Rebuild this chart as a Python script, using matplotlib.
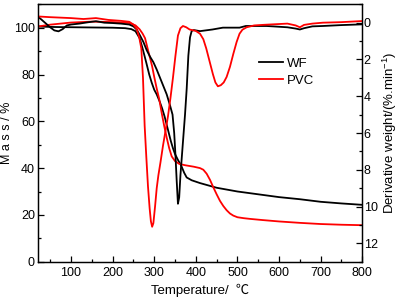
import matplotlib
matplotlib.use("Agg")
from matplotlib import pyplot as plt
from matplotlib.ticker import MultipleLocator

plt.rcParams['font.family'] = ['Liberation Sans', 'Noto Sans CJK SC', 'DejaVu Sans']
plt.rcParams['mathtext.default'] = 'regular'

# WF mass (TG)
wf_tg_t = [20, 40, 60, 100, 150, 200, 230, 245, 255, 265, 273, 281, 288, 294, 300,
           306, 313, 319, 325, 330, 335, 340, 345, 350, 357, 365, 372, 378, 390,
           410, 450, 500, 550, 600, 650, 700, 750, 800]
wf_tg = [100.5, 100.4, 100.3, 100.2, 100.1, 100.0, 99.8, 99.4, 98.5, 95.5, 90.5, 85,
         80, 76.5, 73.5, 71.5, 68.5, 65.5, 62, 58.5, 55, 51.5, 48.5, 46, 43.5, 41,
         38, 36, 34.8, 33.6, 31.6, 30, 28.8, 27.6, 26.7, 25.6, 24.9, 24.3]

# PVC mass (TG)
pvc_tg_t = [20, 50, 100, 150, 200, 240, 255, 265, 272, 278, 285, 290, 295, 300, 306,
            312, 318, 324, 330, 336, 342, 350, 360, 375, 395, 410, 418, 426, 434,
            442, 450, 458, 466, 474, 482, 490, 500, 515, 530, 560, 600, 650, 700,
            750, 800]
pvc_tg = [100.5, 101.3, 102.2, 102.6, 102.4, 102, 101, 99.3, 97.5, 95.5, 90.5, 87,
          83.5, 79, 74, 69.5, 63.5, 58, 53, 48.5, 45, 43, 41.8, 41.2, 40.6, 40, 39.3,
          37.6, 35, 31.8, 28.8, 26, 23.8, 22, 20.6, 19.7, 19, 18.6, 18.3, 17.8, 17.2,
          16.6, 16.1, 15.8, 15.6]

# WF derivative weight (DTG)
wf_dtg_t = [20, 30, 40, 50, 60, 70, 80, 90, 100, 120, 140, 160, 180, 200, 220, 240,
            250, 258, 266, 274, 282, 290, 298, 306, 314, 322, 330, 338, 344, 348,
            351, 354, 357, 360, 363, 366, 370, 374, 378, 382, 386, 390, 395, 410,
            440, 465, 505, 520, 570, 585, 620, 640, 650, 660, 680, 705, 750, 800]
wf_dtg = [-0.34, -0.15, 0.05, 0.25, 0.42, 0.47, 0.35, 0.15, 0.1, 0.05, -0.02, -0.08,
          0.0, 0.02, 0.05, 0.1, 0.2, 0.37, 0.7, 1.05, 1.5, 1.85, 2.15, 2.55, 3.0,
          3.45, 3.9, 4.5, 5.0, 6.0, 7.2, 8.6, 9.85, 9.5, 8.3, 7.4, 6.2, 5.0, 3.6,
          1.8, 0.8, 0.45, 0.4, 0.46, 0.37, 0.27, 0.27, 0.18, 0.18, 0.2, 0.25, 0.32,
          0.37, 0.3, 0.2, 0.18, 0.13, 0.09]

# PVC derivative weight (DTG)
pvc_dtg_t = [20, 50, 100, 130, 160, 190, 220, 240, 250, 258, 264, 269, 273, 277, 281,
             285, 289, 292, 295, 298, 302, 306, 310, 315, 321, 327, 333, 339, 345,
             351, 357, 363, 369, 377, 385, 400, 410, 418, 425, 433, 441, 447, 453,
             460, 467, 474, 482, 490, 498, 505, 512, 522, 540, 560, 585, 620, 640,
             650, 660, 680, 705, 750, 800]
pvc_dtg = [-0.34, -0.3, -0.25, -0.2, -0.25, -0.15, -0.1, -0.05, 0.1, 0.35, 0.8, 1.4,
           3.0, 5.6, 7.3, 8.9, 10.1, 10.8, 11.1, 10.9, 10.0, 9.0, 8.3, 7.6, 6.7, 5.9,
           5.1, 4.1, 3.0, 1.8, 0.7, 0.3, 0.18, 0.25, 0.37, 0.45, 0.6, 0.9, 1.4, 2.1,
           2.8, 3.25, 3.46, 3.4, 3.25, 2.95, 2.4, 1.7, 1.05, 0.6, 0.38, 0.25, 0.15,
           0.12, 0.09, 0.05, 0.15, 0.25, 0.12, 0.05, 0.0, -0.03, -0.09]

fig = plt.figure(figsize=(4.01, 3.03), dpi=100)
ax = fig.add_axes([0.094, 0.1363, 0.8095, 0.8495])
ax2 = ax.twinx()

lw = 1.3
ax.plot(wf_tg_t, wf_tg, color='black', lw=lw)
ax.plot(pvc_tg_t, pvc_tg, color='red', lw=lw)
ax2.plot(wf_dtg_t, wf_dtg, color='black', lw=lw, label='WF')
ax2.plot(pvc_dtg_t, pvc_dtg, color='red', lw=lw, label='PVC')

ax.set_xlim(20, 800)
ax.set_ylim(0, 110)
ax2.set_ylim(13, -1)

ax.xaxis.set_minor_locator(MultipleLocator(50))
ax.yaxis.set_minor_locator(MultipleLocator(10))
ax2.yaxis.set_minor_locator(MultipleLocator(1))

ax.set_xticks([100, 200, 300, 400, 500, 600, 700, 800])
ax.set_yticks([0, 20, 40, 60, 80, 100])
ax2.set_yticks([0, 2, 4, 6, 8, 10, 12])

for a in (ax, ax2):
    a.tick_params(which='both', direction='in', labelsize=9, top=False)
    a.tick_params(which='major', length=4.5, width=0.9)
    a.tick_params(which='minor', length=2.5, width=0.9)
    for s in a.spines.values():
        s.set_linewidth(0.9)
ax.tick_params(axis='y', right=False, pad=2)
ax2.tick_params(axis='y', left=False, pad=1)

ax.set_xlabel('Temperature/  ℃', fontsize=9.5)
ax.xaxis.set_label_coords(0.5, -0.085)
ax.set_ylabel('M a s s / %', fontsize=9)
ax.yaxis.set_label_coords(-0.076, 0.5)
ax2.set_ylabel('Derivative weight/(%.min$^{-1}$)', fontsize=9.5)
ax2.yaxis.set_label_coords(1.058, 0.5)

ax2.legend(loc='upper left', bbox_to_anchor=(0.645, 0.84), frameon=False,
           fontsize=9.5, handlelength=1.8, handletextpad=0.3, labelspacing=0.4)

fig.savefig('out.png', dpi=100)
